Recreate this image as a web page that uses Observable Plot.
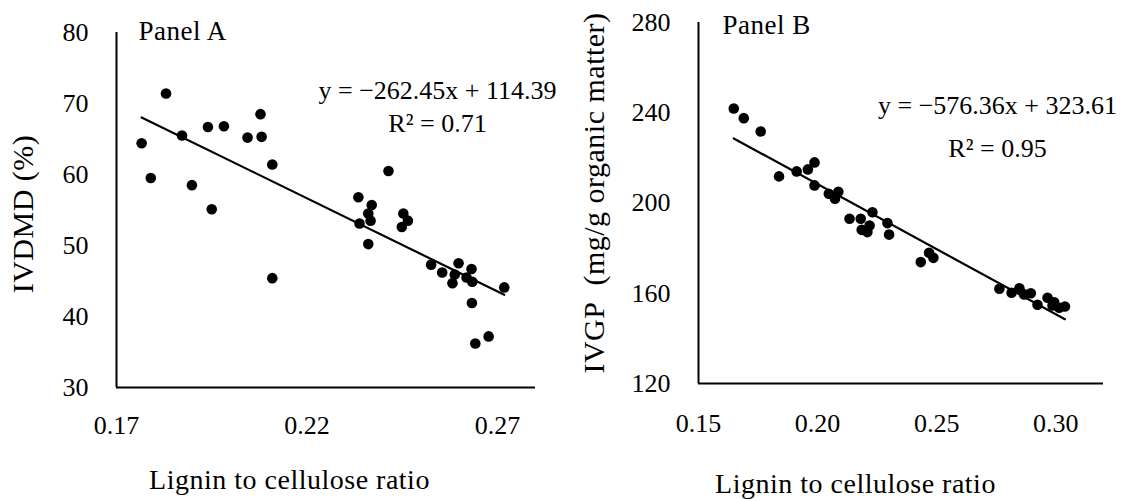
<!DOCTYPE html>
<html>
<head>
<meta charset="utf-8">
<script src="https://cdn.jsdelivr.net/npm/d3@7"></script>
<script src="https://cdn.jsdelivr.net/npm/@observablehq/plot@0.6"></script>
<style>
  html, body { margin: 0; padding: 0; background: white; }
  #wrap { position: relative; width: 1124px; height: 501px; background: white; overflow: hidden; }
  #panelA { position: absolute; left: 0; top: 0; }
  #panelB { position: absolute; left: 562px; top: 0; }
  svg { overflow: visible; }
</style>
</head>
<body>
<div id="wrap"><div id="panelA"></div><div id="panelB"></div></div>
<script>
// ---------- Panel A data ----------
const aRatio = [0.1766, 0.1790, 0.1830, 0.1872, 0.1898, 0.1940, 0.1950, 0.1982, 0.2044, 0.2078,
  0.2081, 0.2109, 0.2109, 0.2335, 0.2338, 0.2361, 0.2361, 0.2367, 0.2370, 0.2414,
  0.2449, 0.2453, 0.2465, 0.2526, 0.2555, 0.2582, 0.2588, 0.2598, 0.2619, 0.2632,
  0.2634, 0.2633, 0.2642, 0.2677, 0.2718];
const aIVDMD = [64.4, 59.5, 71.4, 65.5, 58.5, 66.7, 55.1, 66.8, 65.2, 68.5,
  65.3, 61.4, 45.4, 56.8, 53.1, 54.5, 50.2, 53.5, 55.7, 60.5,
  52.6, 54.5, 53.5, 47.3, 46.2, 44.7, 45.9, 47.5, 45.5, 46.7,
  44.9, 41.9, 36.2, 37.2, 44.1];
const aXTicks = [0.17, 0.22, 0.27];
const aYTicks = [30, 40, 50, 60, 70, 80];
const aXDomain = [0.17, 0.28];
const aYDomain = [30, 80];
const aFit = {slope: -262.45, intercept: 114.39};
const aEquation = "y = \u2212262.45x + 114.39";
const aR2 = "R\u00b2 = 0.71";

// ---------- Panel B data ----------
const bRatio = [0.1648, 0.1690, 0.1761, 0.1838, 0.1912, 0.1959, 0.1987, 0.1987, 0.2047, 0.2073,
  0.2087, 0.2134, 0.2181, 0.2185, 0.2209, 0.2218, 0.2230, 0.2293, 0.2300, 0.2433,
  0.2468, 0.2486, 0.2763, 0.2814, 0.2847, 0.2867, 0.2895, 0.2923, 0.2965, 0.2986,
  0.2993, 0.3014, 0.3038];
const bIVGP = [241.9, 237.6, 231.7, 211.8, 214.0, 214.9, 218.0, 207.8, 204.1, 201.9,
  205.0, 193.0, 193.0, 188.1, 187.1, 190.0, 195.9, 191.1, 186.0, 173.8,
  177.9, 175.7, 162.0, 160.2, 162.2, 159.5, 160.0, 154.9, 158.0, 154.6,
  156.0, 153.6, 154.1];
const bXTicks = [0.15, 0.20, 0.25, 0.30];
const bYTicks = [120, 160, 200, 240, 280];
const bXDomain = [0.15, 0.32];
const bYDomain = [120, 280];
const bFit = {slope: -576.36, intercept: 323.61};
const bEquation = "y = \u2212576.36x + 323.61";
const bR2 = "R\u00b2 = 0.95";

const xLabel = "Lignin to cellulose ratio";
const aYLabel = "IVDMD (%)";
const bYLabel = "IVGP\u00a0 (mg/g organic matter)";

const FONT = "Liberation Serif, 'Times New Roman', serif";
const FS = 26;

function fitLine(xs, fit) {
  const [x0, x1] = d3.extent(xs);
  return [x0, x1].map(x => ({x, y: fit.slope * x + fit.intercept}));
}

function panel(o) {
  const pts = o.xs.map((x, i) => ({x, y: o.ys[i]}));
  const svg = Plot.plot({
    width: o.width, height: 501,
    marginLeft: o.ml, marginRight: o.mr, marginTop: o.mt, marginBottom: o.mb,
    style: {fontFamily: FONT, fontSize: FS + "px", color: "black", background: "white"},
    x: {domain: o.xDomain},
    y: {domain: o.yDomain},
    marks: [
      Plot.axisX({ticks: o.xTicks, tickSize: 0, tickPadding: o.xPad, tickFormat: d => d.toFixed(2), label: null, fontSize: FS, fontFamily: FONT}),
      Plot.axisY({ticks: o.yTicks, tickSize: 0, tickPadding: 28, tickFormat: d => String(d), label: null, fontSize: FS, fontFamily: FONT}),
      Plot.ruleX([o.xDomain[0]], {stroke: "black", strokeWidth: 2}),
      Plot.ruleY([o.yDomain[0]], {stroke: "black", strokeWidth: 2}),
      Plot.line(fitLine(o.xs, o.fit), {x: "x", y: "y", stroke: "black", strokeWidth: 2.2}),
      Plot.dot(pts, {x: "x", y: "y", r: 5.3, fill: "black", stroke: "none"}),
      Plot.text([o.panel], {frameAnchor: "top-left", text: d => d, textAnchor: "start", lineAnchor: "middle", dx: o.pdx, dy: o.pdy, fontSize: 27, fontFamily: FONT, fill: "black"}),
      Plot.text([o.eq], {frameAnchor: "top-left", text: d => d, textAnchor: "middle", lineAnchor: "middle", dx: o.edx, dy: o.edy, fontSize: FS, fontFamily: FONT, fill: "black"}),
      Plot.text([o.r2], {frameAnchor: "top-left", text: d => d, textAnchor: "middle", lineAnchor: "middle", dx: o.edx, dy: o.rdy, fontSize: FS, fontFamily: FONT, fill: "black"}),
      Plot.text([xLabel], {frameAnchor: "bottom", text: d => d, textAnchor: "middle", lineAnchor: "middle", dx: o.xldx, dy: o.xldy, fontSize: 28, fontFamily: FONT, fill: "black"}),
      Plot.text([o.yLabel], {frameAnchor: "left", text: d => d, textAnchor: "middle", lineAnchor: "middle", rotate: -90, dx: o.yldx, dy: o.yldy, fontSize: 30, fontFamily: FONT, fill: "black"})
    ]
  });
  const titles = [xLabel, o.yLabel, o.panel];
  d3.select(svg).selectAll("text")
    .filter(function() { return titles.includes(this.textContent); })
    .style("letter-spacing", "0.5px");
  return svg;
}

document.getElementById("panelA").append(panel({
  xs: aRatio, ys: aIVDMD, width: 560, ml: 116, mr: 25, mt: 32, mb: 114,
  xDomain: aXDomain, yDomain: aYDomain, xTicks: aXTicks, yTicks: aYTicks, xPad: 28,
  fit: aFit, panel: "Panel A", pdx: 22, pdy: -1,
  eq: aEquation, r2: aR2, edx: 321, edy: 58, rdy: 91,
  xldx: -36.5, xldy: 93, yLabel: aYLabel, yldx: -93, yldy: 4
}));

document.getElementById("panelB").append(panel({
  xs: bRatio, ys: bIVGP, width: 562, ml: 136, mr: 21, mt: 22, mb: 118,
  xDomain: bXDomain, yDomain: bYDomain, xTicks: bXTicks, yTicks: bYTicks, xPad: 30,
  fit: bFit, panel: "Panel B", pdx: 24, pdy: 3,
  eq: bEquation, r2: bR2, edx: 299, edy: 83, rdy: 126,
  xldx: -45.5, xldy: 101, yLabel: bYLabel, yldx: -104, yldy: -10
}));
</script>
</body>
</html>
